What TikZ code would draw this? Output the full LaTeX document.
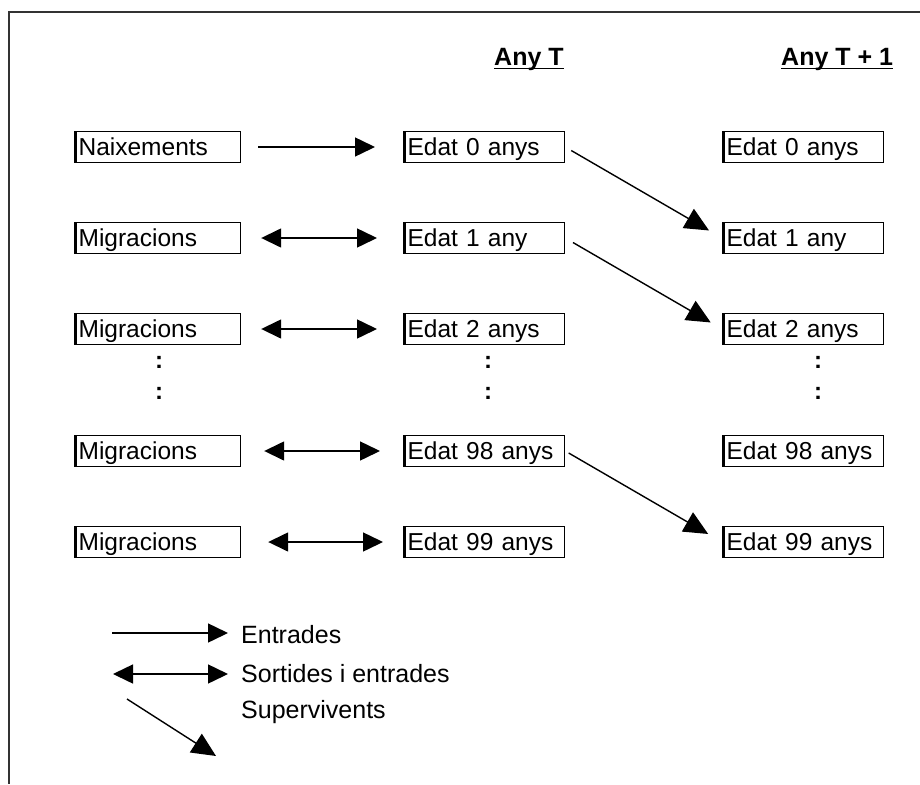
\documentclass[tikz,border=0pt]{standalone}
\usepackage{fontspec}
\setmainfont{Liberation Sans}
\usetikzlibrary{calc, arrows.meta}

\begin{document}
\begin{tikzpicture}[x=1pt, y=-1pt,
    caixa/.style={draw, line width=1.2pt, anchor=west, inner xsep=4pt, inner ysep=0pt,
        minimum height=31pt, text depth=0pt, align=left, font=\fontsize{24.5}{28}\selectfont,
        path picture={\draw[line width=4pt] (path picture bounding box.north west) -- (path picture bounding box.south west);}},
    capcal/.style={anchor=base west, inner sep=0pt, font=\fontsize{25}{30}\selectfont\bfseries},
    llegenda/.style={anchor=base west, inner sep=0pt, font=\fontsize{25}{30}\selectfont},
    punts/.style={anchor=base, inner sep=0pt, font=\fontsize{24}{28}\selectfont\bfseries},
    entrada/.style={-{Triangle[length=20pt, width=19pt]}, line width=1.5pt},
    migra/.style={{Triangle[length=20pt, width=19pt]}-{Triangle[length=20pt, width=19pt]}, line width=1.5pt},
    superv/.style={-{Triangle[length=24pt, width=22pt]}, line width=1.4pt}]
                \useasboundingbox (0,0) rectangle (920,784);
                
                % 1. Marc
                \draw[line width=1.6pt, black!80] (920,12) -- (9,12) -- (9,784);
                
                % 2. Capçaleres
                \node[capcal] (anyT) at (494,66) {Any T};
                \node[capcal] (anyT1) at (781,66) {Any T + 1};
                \draw[line width=1.6pt] ($(anyT.base west)+(0,2.5)$) -- ($(anyT.base east)+(0,2.5)$);
                \draw[line width=1.6pt] ($(anyT1.base west)+(0,2.5)$) -- ($(anyT1.base east)+(0,2.5)$);
                
                % 3. Caixes
                \node[caixa, text width=158pt] (naix) at (74,147) {Naixements};
                \foreach \nom/\y in {m1/238, m2/329, m98/451, m99/542} {
                    \node[caixa, text width=158pt] (\nom) at (74,\y) {Migracions};
                }
                \foreach \nom/\y/\txt in {e0/147/Edat 0 anys, e1/238/Edat 1 any, e2/329/Edat 2 anys,
                                          e98/451/Edat 98 anys, e99/542/Edat 99 anys} {
                    \node[caixa, text width=153pt] (a\nom) at (403,\y) {\txt};
                    \node[caixa, text width=153pt] (b\nom) at (722,\y) {\txt};
                }
                
                % 4. Punts suspensius
                \foreach \x in {159,488,818} {
                    \node[punts] (pa\x) at (\x,368) {:};
                    \node[punts] (pb\x) at (\x,399) {:};
                }
                
                % 5. Fletxes
                \draw[entrada, shorten <=17pt, shorten >=28pt] (naix) -- (ae0);
                \draw[migra, shorten <=20pt, shorten >=26pt] (m1) -- (ae1);
                \draw[migra, shorten <=20pt, shorten >=26pt] (m2) -- (ae2);
                \draw[migra, shorten <=23pt, shorten >=23pt] (m98) -- (ae98);
                \draw[migra, shorten <=27pt, shorten >=20pt] (m99) -- (ae99);
                \draw[superv, shorten <=7pt, shorten >=15pt] (ae0.east) -- (be1.west);
                \draw[superv, shorten <=9pt, shorten >=13pt] (ae1.east) -- (be2.west);
                \draw[superv, shorten <=4pt, shorten >=16pt] (ae98.east) -- (be99.west);
                
                % 6. Llegenda
                \coordinate (l1a) at (112,633); \coordinate (l1b) at (228,633);
                \coordinate (l2a) at (113,674); \coordinate (l2b) at (228,674);
                \coordinate (l3a) at (127,699); \coordinate (l3b) at (216,756);
                \draw[entrada] (l1a) -- (l1b);
                \draw[migra] (l2a) -- (l2b);
                \draw[superv] (l3a) -- (l3b);
                \node[llegenda] (ll1) at (241,643) {Entrades};
                \node[llegenda] (ll2) at (241,682) {Sortides i entrades};
                \node[llegenda] (ll3) at (241,718) {Supervivents};
            \end{tikzpicture}
\end{document}
